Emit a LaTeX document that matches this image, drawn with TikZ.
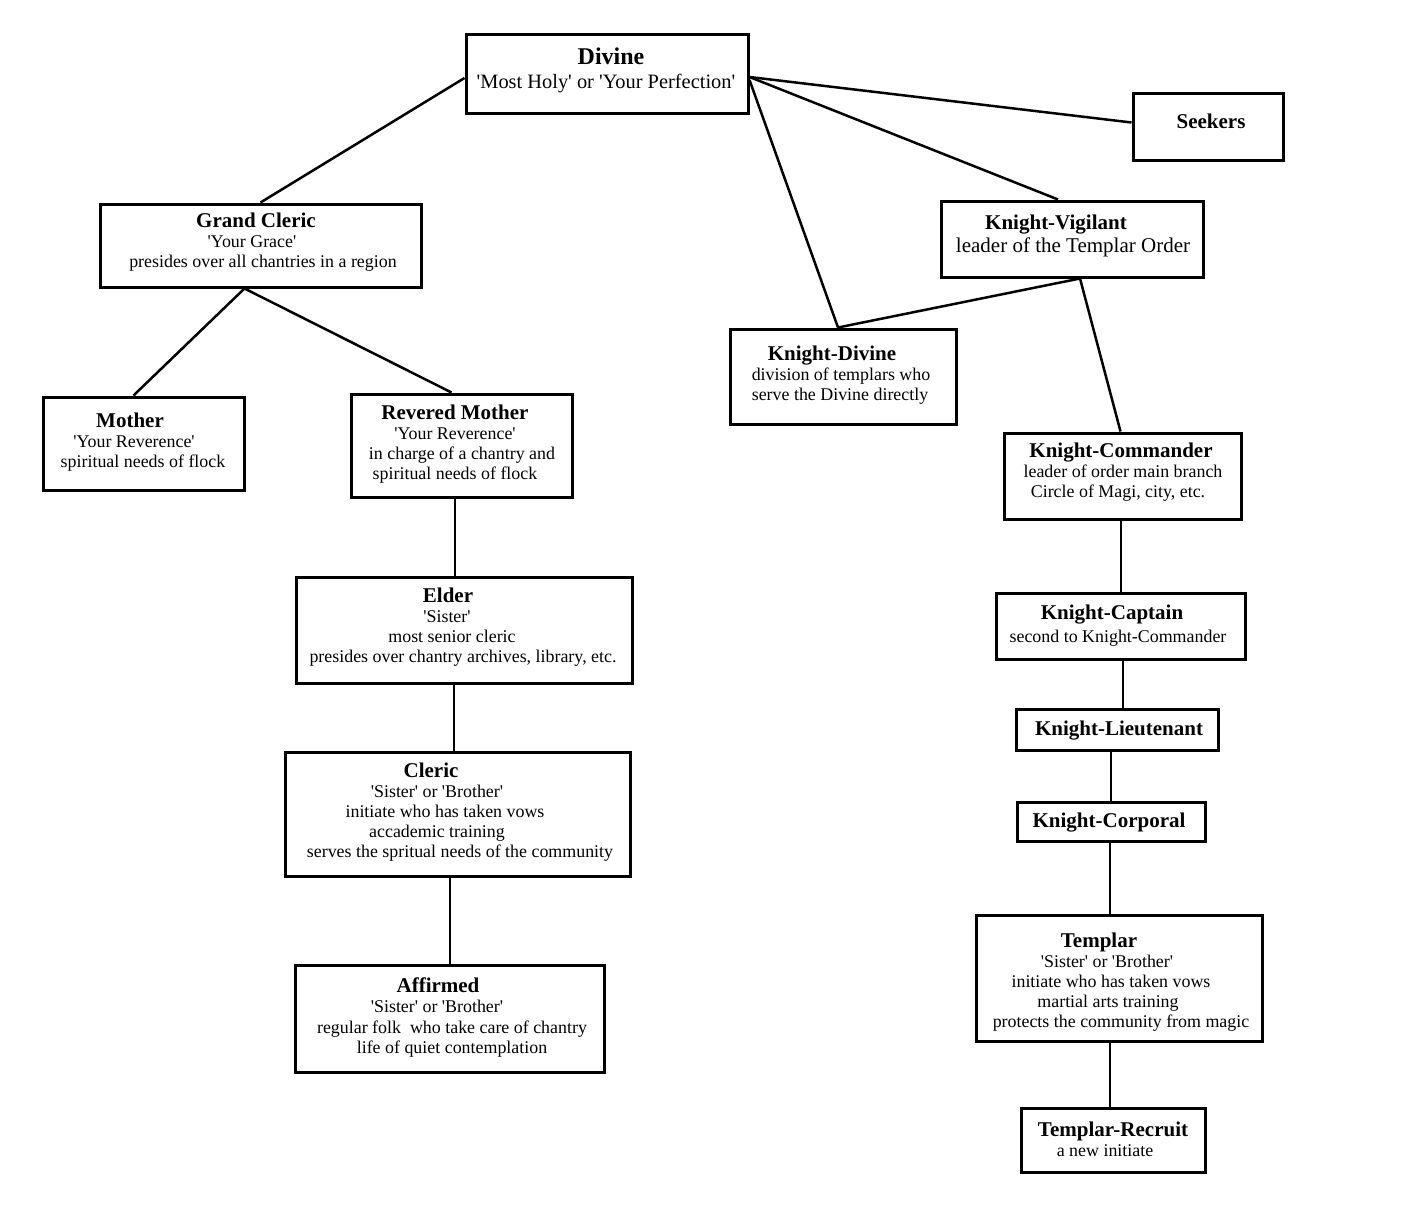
\documentclass[tikz,border=0pt]{standalone}
\usepackage{fontspec}
\setmainfont{Liberation Serif}[Ligatures=TeXOff]
\usetikzlibrary{fit}
\tikzset{
  box/.style={draw=black, line width=3pt, inner sep=0pt, fill=white},
  conn/.style={draw=black, line width=2.5pt},
  ttl/.style={inner sep=0pt, text height=17.6pt, text depth=5pt, font=\fontsize{21}{23}\selectfont\bfseries},
  sub/.style={inner sep=0pt, text height=14.8pt, text depth=4pt, font=\fontsize{17.9}{20}\selectfont},
}
\newcommand\mybox[5]{\node[box, fit={(#2,#3) (#4,#5)}] (#1) {};}
\begin{document}
\begin{tikzpicture}[x=1pt,y=-1pt]
\useasboundingbox (0,0) rectangle (1404,1231);
% boxes
\mybox{divine}{466}{35}{748}{113}
\mybox{seekers}{1133}{93}{1283}{160}
\mybox{gc}{100}{204}{421}{287}
\mybox{kv}{941}{201}{1203}{277}
\mybox{kd}{730}{329}{956}{424}
\mybox{mother}{43}{397}{244}{490}
\mybox{rm}{351}{394}{572}{497}
\mybox{kcmd}{1004}{433}{1241}{519}
\mybox{elder}{296}{577}{632}{683}
\mybox{kcapt}{996}{593}{1245}{659}
\mybox{klt}{1016}{709}{1218}{750}
\mybox{kcorp}{1017}{802}{1205}{841}
\mybox{cleric}{285}{752}{630}{876}
\mybox{templar}{976}{915}{1262}{1041}
\mybox{affirmed}{295}{965}{604}{1072}
\mybox{recruit}{1021}{1108}{1205}{1172}
% connectors
\path[conn] ([yshift=-4]divine.west) -- (gc.north);
\path[conn] ([yshift=-3]divine.east) -- ([yshift=4]seekers.west);
\path[conn] ([yshift=-3]divine.east) -- ([xshift=-14]kv.north);
\path[conn] ([yshift=-6]divine.east) -- ([xshift=-5]kd.north);
\path[conn] ([xshift=8]kv.south) -- ([xshift=-5]kd.north);
\path[conn] ([xshift=8]kv.south) -- ([xshift=-2]kcmd.north);
\path[conn] ([xshift=-16]gc.south) -- ([xshift=-10]mother.north);
\path[conn] ([xshift=-16]gc.south) -- ([xshift=-10]rm.north);
\path[conn] ([xshift=-6.5]rm.south) -- ([xshift=-6.5]rm.south |- elder.north);
\path[conn] ([xshift=-10]elder.south) -- ([xshift=-10]elder.south |- cleric.north);
\path[conn] ([xshift=-7.5]cleric.south) -- ([xshift=-7.5]cleric.south |- affirmed.north);
\path[conn] ([xshift=-1.5]kcmd.south) -- ([xshift=-1.5]kcmd.south |- kcapt.north);
\path[conn] ([xshift=2.5]kcapt.south) -- ([xshift=2.5,yshift=-3]kcapt.south |- klt.north);
\path[conn] ([xshift=-6]klt.south) -- ([xshift=-6]klt.south |- kcorp.north);
\path[conn] ([xshift=-1]kcorp.south) -- ([xshift=-1]kcorp.south |- templar.north);
\path[conn] ([xshift=-9]templar.south) -- ([xshift=-9]templar.south |- recruit.north);
% texts
\node[ttl, text height=20pt, text depth=5.5pt, font=\fontsize{24}{26}\selectfont\bfseries] (t1) at (611,57) {Divine};
\node[sub, text height=16.8pt, text depth=4.5pt, font=\fontsize{20.4}{22}\selectfont] (t2) at (606,82) {'Most Holy' or 'Your Perfection'};
\node[ttl] (t3) at (1211,122) {Seekers};
\node[ttl] (t4) at (256,221) {Grand Cleric};
\node[sub] (t5) at (252,242) {'Your Grace'};
\node[sub] (t6) at (263,262) {presides over all chantries in a region};
\node[ttl] (t7) at (1056,223) {Knight-Vigilant};
\node[sub, text height=17.2pt, text depth=4.6pt, font=\fontsize{21}{23}\selectfont] (t8) at (1073,246) {leader of the Templar Order};
\node[ttl] (t9) at (832,354) {Knight-Divine};
\node[sub] (t10) at (841,375) {division of templars who};
\node[sub] (t11) at (840,395) {serve the Divine directly};
\node[ttl] (t12) at (130,421) {Mother};
\node[sub] (t13) at (134,442) {'Your Reverence'};
\node[sub] (t14) at (143,462) {spiritual needs of flock};
\node[ttl] (t15) at (455,413) {Revered Mother};
\node[sub] (t16) at (455,434) {'Your Reverence'};
\node[sub] (t17) at (462,454) {in charge of a chantry and};
\node[sub] (t18) at (455,474) {spiritual needs of flock};
\node[ttl] (t19) at (1121,451) {Knight-Commander};
\node[sub] (t20) at (1123,472) {leader of order main branch};
\node[sub] (t21) at (1118,492) {Circle of Magi, city, etc.};
\node[ttl] (t22) at (448,596) {Elder};
\node[sub] (t23) at (447,617) {'Sister'};
\node[sub] (t24) at (452,637) {most senior cleric};
\node[sub] (t25) at (463,657) {presides over chantry archives, library, etc.};
\node[ttl] (t26) at (1112,613) {Knight-Captain};
\node[sub] (t27) at (1118,637) {second to Knight-Commander};
\node[ttl] (t28) at (1119,729) {Knight-Lieutenant};
\node[ttl] (t29) at (1109,821) {Knight-Corporal};
\node[ttl] (t30) at (431,771) {Cleric};
\node[sub] (t31) at (437,792) {'Sister' or 'Brother'};
\node[sub] (t32) at (445,812) {initiate who has taken vows};
\node[sub] (t33) at (437,832) {accademic training};
\node[sub] (t34) at (460,852) {serves the spritual needs of the community};
\node[ttl] (t35) at (1099,941) {Templar};
\node[sub] (t36) at (1107,962) {'Sister' or 'Brother'};
\node[sub] (t37) at (1111,982) {initiate who has taken vows};
\node[sub] (t38) at (1108,1002) {martial arts training};
\node[sub] (t39) at (1121,1022) {protects the community from magic};
\node[ttl] (t40) at (438,986) {Affirmed};
\node[sub] (t41) at (437,1007) {'Sister' or 'Brother'};
\node[sub] (t42) at (452,1028) {regular folk\ \ who take care of chantry};
\node[sub] (t43) at (452,1048) {life of quiet contemplation};
\node[ttl] (t44) at (1113,1130) {Templar-Recruit};
\node[sub] (t45) at (1105,1151) {a new initiate};
\end{tikzpicture}
\end{document}
